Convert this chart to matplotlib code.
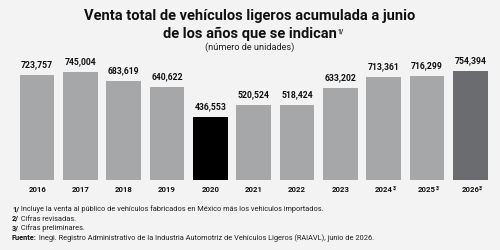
import matplotlib.pyplot as plt
import numpy as np

years = ["2016", "2017", "2018", "2019", "2020", "2021", "2022", "2023", "2024", "2025", "2026"]
sales = [723757, 745004, 683619, 640622, 436553, 520524, 518424, 633202, 713361, 716299, 754394]
year_notes = ["", "", "", "", "", "", "", "", "3/", "3/", "3/"]
bar_colors = ["#a6a7a9"] * 4 + ["#000000"] + ["#a6a7a9"] * 5 + ["#6b6c6f"]

footnotes = [
    ("1/", " Incluye la venta al público de vehículos fabricados en México más los vehículos importados."),
    ("2/", " Cifras revisadas."),
    ("3/", " Cifras preliminares."),
    ("Fuente:", " Inegi. Registro Administrativo de la Industria Automotriz de Vehículos Ligeros (RAIAVL), junio de 2026."),
]

bg = "#f2f3f2"
plt.rcParams['font.family'] = ['Roboto', 'DejaVu Sans']

fig = plt.figure(figsize=(5, 2.5), dpi=100, facecolor=bg)
ax = fig.add_axes([0.031, 0.28, 0.953, 0.464])
ax.set_facecolor(bg)

x = np.arange(len(years))
ax.bar(x, sales, width=0.8, color=bar_colors)
ax.set_xlim(-0.5, len(years) - 0.5)
ax.set_ylim(0, 800000)

for xi, v in zip(x, sales):
    ax.text(xi, v + 38000, f"{v:,}", ha="center", va="bottom", fontsize=6.2,
            fontweight="bold", color="#111111", clip_on=False)

for s in ax.spines.values():
    s.set_visible(False)
ax.set_yticks([])
ax.set_xticks([])

# year labels under the bars, with superscript notes
for xi, yr, note in zip(x, years, year_notes):
    t = ax.annotate(yr, xy=(xi, 0), xycoords="data", xytext=(0, -4.5), textcoords="offset points",
                    ha="center", va="top", fontsize=5.6, fontweight="bold", color="#111111",
                    annotation_clip=False)
    if note:
        ax.annotate(note, xy=(1, 1), xycoords=t, xytext=(-0.2, 0.3), textcoords="offset points",
                    ha="left", va="top", fontsize=3.3, fontweight="bold",
                    color="#111111", annotation_clip=False)

fig.text(0.5, 0.935, "Venta total de vehículos ligeros acumulada a junio",
         ha="center", va="center", fontsize=10.5, fontweight="bold", color="#111111")
t2 = fig.text(0.5, 0.866, "de los años que se indican",
              ha="center", va="center", fontsize=10.5, fontweight="bold", color="#111111")
ax.annotate("1/", xy=(1, 1), xycoords=t2, xytext=(0.5, -0.5), textcoords="offset points",
            ha="left", va="top", fontsize=4.8, fontweight="bold", color="#111111",
            annotation_clip=False)
fig.text(0.5, 0.81, "(número de unidades)", ha="center", va="center",
         fontsize=6.6, color="#222222")

y0 = 0.148
for i, (head, body) in enumerate(footnotes):
    th = fig.text(0.024, y0 - i * 0.0385, head, ha="left", va="bottom", fontsize=5.3,
                  fontweight="bold", color="#111111")
    ax.annotate(body, xy=(1, 0), xycoords=th, ha="left", va="bottom", fontsize=5.3,
                color="#222222", annotation_clip=False)

fig.savefig("out.png", dpi=100, facecolor=bg)
